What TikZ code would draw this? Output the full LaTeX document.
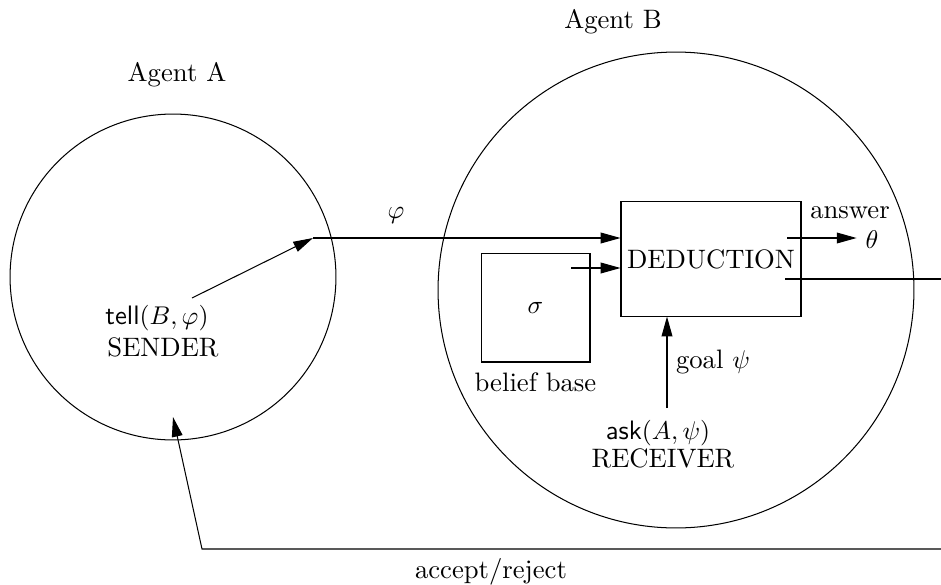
\documentclass[tikz,border=0pt]{standalone}
\usetikzlibrary{arrows.meta,positioning}
\tikzset{
  agent/.style={circle,draw,inner sep=0pt},
  procbox/.style={draw,rectangle,inner sep=0pt},
  every node/.style={font=\fontsize{10.4}{12.5}\selectfont},
  >={Triangle[length=7.7pt,width=4.2pt]}
}

\begin{document}
\begin{tikzpicture}[x=0.39pt,y=-0.39pt]
        \useasboundingbox (0,0) rectangle (941,584);
        % agents
        \node[agent,minimum size=127.1pt] (agentA) at (173,277) {};
        \node[agent,minimum size=185.6pt] (agentB) at (676,290) {};
        \node (nameA) at (177,75) {Agent A};
        \node (nameB) at (613,22) {Agent B};
        % sender side
        \node (tell) at (157,318) {$\textsf{tell}(B,\varphi)$};
        \node (sender) at (163,347) {SENDER};
        \coordinate (tellout) at (192,298);
        \coordinate (phiin) at (313,238);
        % receiver side
        \node[procbox,minimum width=70.2pt,minimum height=44.5pt] (deduction) at (711,259) {DEDUCTION};
        \node[procbox,minimum size=42.5pt] (bbase) at (535.5,307.5) {$\sigma$};
        \node[below=0.5pt of bbase] (bbaselabel) {belief base};
        \node (ask) at (658,433) {$\textsf{ask}(A,\psi)$};
        \node (receiver) at (663,458) {RECEIVER};
        \node (answer) at (850,213) {answer};
        \node (theta) at (872,240) {$\theta$};
        \coordinate (sigmaout) at (571,268);
        \coordinate (goalin) at (667,408);
        \coordinate (ansout) at (787,238);
        \coordinate (dedout) at (785,279);
        \coordinate (exitB) at (941,279);
        \coordinate (exitlow) at (941,549);
        \coordinate (turn) at (202,549);
        \coordinate (replyin) at (173,417);
        % messages
        \draw[->] (tellout) -- (phiin);
        \draw[->] (phiin) -- node[pos=0.27,above=2pt] {$\varphi$} (phiin -| deduction.west);
        \draw[->] (sigmaout) -- (sigmaout -| deduction.west);
        \draw[->] (goalin) -- node[right] {goal $\psi$} (goalin |- deduction.south);
        \draw[->] (ansout) -- (ansout -| theta.west);
        \draw (dedout) -- (exitB);
        \draw[->] (exitlow) -- node[pos=0.609,below] {accept/reject} (turn) -- (replyin);
      \end{tikzpicture}
\end{document}
